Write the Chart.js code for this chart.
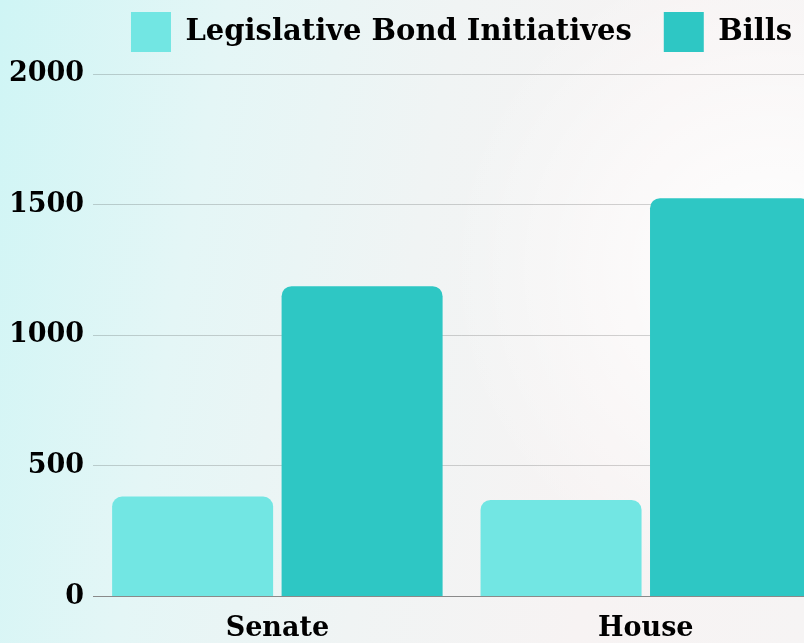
<!DOCTYPE html>
<html>
<head>
<meta charset="utf-8">
<script src="https://cdn.jsdelivr.net/npm/chart.js@4.4.0/dist/chart.umd.min.js"></script>
<style>
  html, body {
    margin: 0;
    padding: 0;
    width: 804px;
    height: 643px;
    overflow: hidden;
    background:
      radial-gradient(circle at 96% 42%, rgba(255,255,255,0.95) 0%, rgba(255,255,255,0) 38%),
      linear-gradient(100deg, #cff5f5 0%, #e4f6f6 25%, #f0f4f4 50%, #f7f3f3 75%, #f6f4f4 100%);
  }
  #wrap {
    position: relative;
    width: 830px;
    height: 673px;
    margin-top: -20px;
  }
</style>
</head>
<body>
<div id="wrap">
  <canvas id="billsChart"></canvas>
</div>
<script>
// Data kategori dan nilai
const chambers = ['Senate', 'House'];
const bondInitiatives = [383, 370];
const bills = [1188, 1525];
const yTicks = [0, 500, 1000, 1500, 2000];
const yMax = 2046;

const serif = "'DejaVu Serif', 'Liberation Serif', serif";

const billsChart = new Chart(
    document.getElementById('billsChart'),
    {
        type: 'bar',
        data: {
            labels: chambers,
            datasets: [{
                label: 'Legislative Bond Initiatives',
                data: bondInitiatives,
                backgroundColor: '#72e6e3',
                borderWidth: 0,
                borderRadius: 10,
                categoryPercentage: 0.92,
                barPercentage: 0.95
            }, {
                label: 'Bills',
                data: bills,
                backgroundColor: '#2ec7c4',
                borderWidth: 0,
                borderRadius: 10,
                categoryPercentage: 0.92,
                barPercentage: 0.95
            }]
        },
        options: {
            responsive: true,
            maintainAspectRatio: false,
            animation: false,
            plugins: {
                legend: {
                    position: 'top',
                    fullSize: false,
                    labels: {
                        boxWidth: 40,
                        boxHeight: 40,
                        padding: 32,
                        color: '#000',
                        font: { family: serif, size: 29, weight: 'bold' }
                    }
                },
                tooltip: { enabled: false }
            },
            scales: {
                x: {
                    grid: { display: false },
                    border: { display: true, color: '#8a8a8a' },
                    ticks: {
                        color: '#000',
                        padding: 8,
                        font: { family: serif, size: 27, weight: 'bold' }
                    }
                },
                y: {
                    min: 0,
                    max: yMax,
                    border: { display: false },
                    grid: { color: 'rgba(0,0,0,0.17)', drawTicks: false },
                    afterBuildTicks: function(scale) {
                        scale.ticks = yTicks.map(v => ({ value: v }));
                    },
                    ticks: {
                        color: '#000',
                        padding: 9,
                        font: { family: serif, size: 27, weight: 'bold' },
                        callback: function(value) {
                            return String(value);
                        }
                    }
                }
            }
        }
    }
);
</script>
</body>
</html>
